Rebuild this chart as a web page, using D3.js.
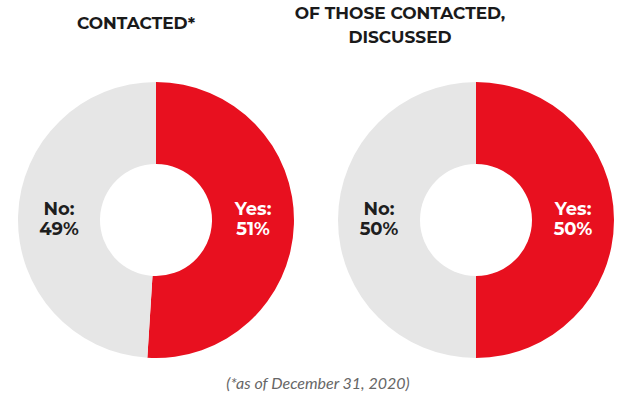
<!DOCTYPE html>
<html>
<head>
<meta charset="utf-8">
<script src="https://cdn.jsdelivr.net/npm/d3@7"></script>
<style>
  body { margin: 0; background: #fff; }
  svg { display: block; }
</style>
</head>
<body>
<svg width="623" height="402"></svg>
<script>
// Data
const categories = ["Yes", "No"];
const titles = [["CONTACTED*"], ["OF THOSE CONTACTED,", "DISCUSSED"]];
const yesValues = [51, 50];
const noValues = [49, 50];
const footnote = "(*as of December 31, 2020)";

const colors = { Yes: "#e8101f", No: "#e6e6e6" };
const textColors = { Yes: "#ffffff", No: "#1e1e1e" };

const width = 623, height = 402;
const svg = d3.select("svg");

// donut geometry
const centers = [156, 476];
const cy = 220;
const outerR = 138, innerR = 56;
const titleX = [136, 400];

const pie = d3.pie().sort(null).value(d => d.value);
const arc = d3.arc().innerRadius(innerR).outerRadius(outerR);
const labelFont = g => g
  .attr("text-anchor", "middle")
  .attr("fill", d => textColors[d.data.key])
  .style("font-family", "Montserrat, 'Open Sans', sans-serif")
  .style("font-weight", "bold")
  .style("font-size", "18px");

yesValues.forEach((yes, i) => {
  const data = categories.map((c, k) => ({ key: c, value: k === 0 ? yes : noValues[i] }));
  const arcs = pie(data);
  const g = svg.append("g").attr("transform", `translate(${centers[i]},${cy})`);

  g.selectAll("path")
    .data(arcs)
    .join("path")
    .attr("d", arc)
    .attr("fill", d => colors[d.data.key]);

  // labels sit in the middle of the ring, level with the centre
  const midR = (innerR + outerR) / 2;
  const lx = d => ((d.startAngle + d.endAngle) / 2 < Math.PI ? 1 : -1) * midR;

  g.selectAll("text.key")
    .data(arcs)
    .join("text")
    .attr("class", "key")
    .attr("x", lx)
    .attr("y", -5)
    .call(labelFont)
    .text(d => d.data.key + ":");

  g.selectAll("text.pct")
    .data(arcs)
    .join("text")
    .attr("class", "pct")
    .attr("x", lx)
    .attr("y", 15)
    .call(labelFont)
    .text(d => d.data.value + "%");

  // title
  titles[i].forEach((l, j) => {
    svg.append("text")
      .attr("x", titleX[i])
      .attr("y", (titles[i].length === 1 ? 29 : 19) + j * 24)
      .attr("text-anchor", "middle")
      .attr("fill", "#1a1a1a")
      .style("font-family", "Montserrat, 'Open Sans', sans-serif")
      .style("font-weight", "bold")
      .style("font-size", "17px")
      .text(l);
  });
});

// footnote
svg.append("text")
  .attr("x", 318)
  .attr("y", 389)
  .attr("text-anchor", "middle")
  .attr("fill", "#666")
  .style("font-family", "Lato, sans-serif")
  .style("font-style", "italic")
  .style("font-size", "16px")
  .text(footnote);
</script>
</body>
</html>
